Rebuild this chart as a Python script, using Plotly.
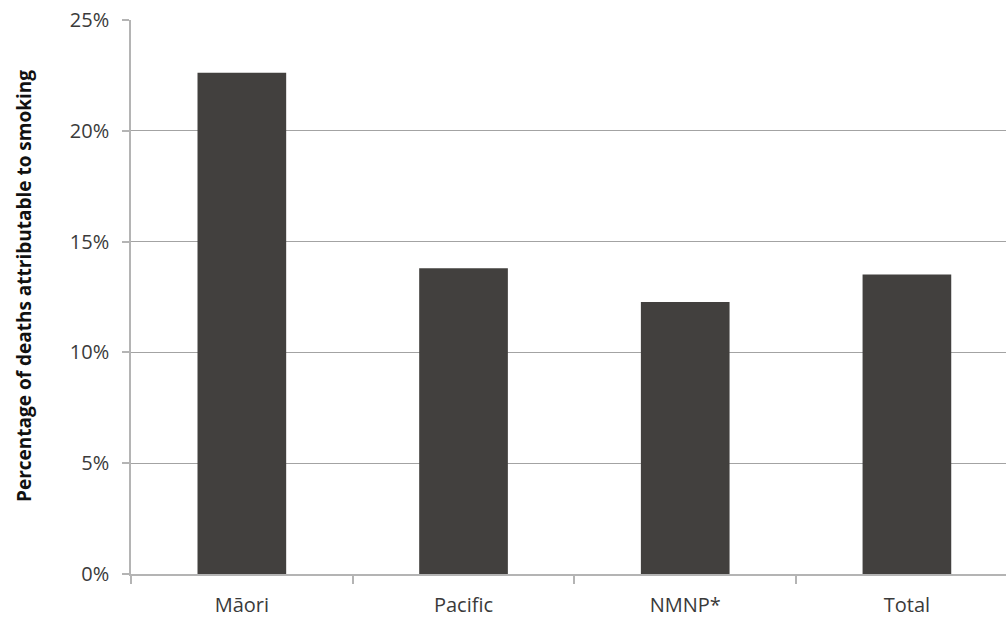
import plotly.graph_objects as go

# Share of deaths attributable to smoking, by ethnic group
categories = ["Māori", "Pacific", "NMNP*", "Total"]
share_attributable = [0.2262, 0.1380, 0.1227, 0.1351]
y_ticks = [0, 0.05, 0.10, 0.15, 0.20, 0.25]

BAR = "#42403e"
GRID = "#a3a3a3"
AXIS = "#b4b4b4"
TEXT = "#3a3a3a"
FONT = "Open Sans, DejaVu Sans, sans-serif"

fig = go.Figure(
    go.Bar(
        x=categories,
        y=share_attributable,
        marker=dict(color=BAR, line=dict(width=0)),
        width=0.4,
    )
)

W, H = 1006, 617
ML, MR, MT, MB = 131, 0, 20, 43

fig.update_layout(
    width=W,
    height=H,
    margin=dict(l=ML, r=MR, t=MT, b=MB),
    paper_bgcolor="white",
    plot_bgcolor="white",
    showlegend=False,
    bargap=0.6,
    font=dict(family=FONT, size=20, color=TEXT),
)

fig.update_xaxes(
    range=[-0.5, 3.447],
    showline=True,
    linecolor=AXIS,
    linewidth=1.5,
    ticks="outside",
    tickson="boundaries",
    ticklen=8,
    tickcolor=AXIS,
    tickwidth=1.5,
    ticklabelstandoff=12,
    showgrid=False,
    tickfont=dict(family=FONT, size=20, color=TEXT),
)

fig.update_yaxes(
    range=[0, 0.25],
    tickvals=y_ticks,
    tickformat=".0%",
    showline=True,
    linecolor=AXIS,
    linewidth=1.5,
    ticks="outside",
    ticklen=7,
    tickcolor=AXIS,
    tickwidth=1.5,
    ticklabelstandoff=9,
    showgrid=True,
    gridcolor=GRID,
    gridwidth=1.2,
    zeroline=False,
    tickfont=dict(family=FONT, size=20, color=TEXT),
)

plot_w = W - ML - MR
plot_h = H - MT - MB
fig.add_annotation(
    text="<b>Percentage of deaths attributable to smoking</b>",
    xref="paper",
    yref="paper",
    x=(24 - ML) / plot_w,
    y=(H - MB - 286) / plot_h,
    xanchor="center",
    yanchor="middle",
    textangle=-90,
    showarrow=False,
    font=dict(family=FONT, size=19, color="#111111"),
)

fig.write_html("out.html")
